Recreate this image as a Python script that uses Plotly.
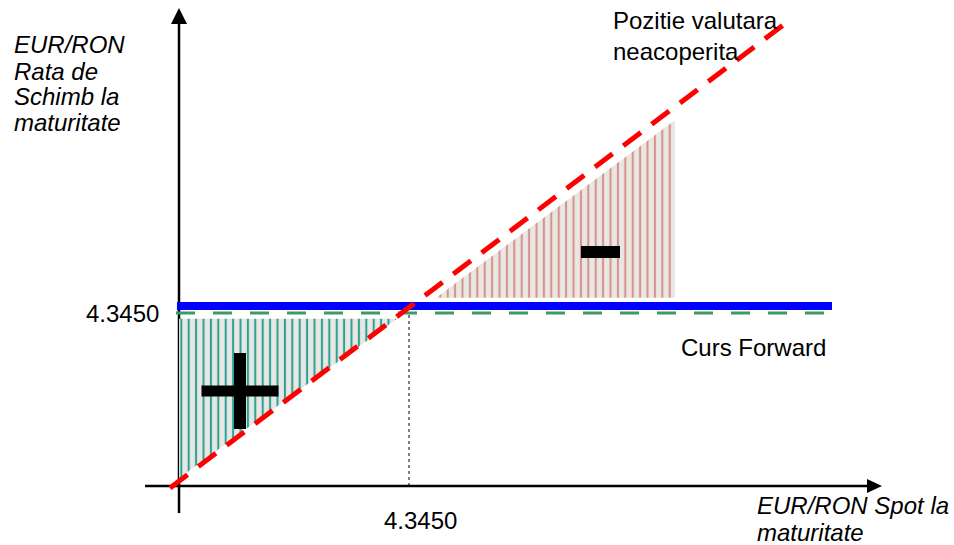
import plotly.graph_objects as go

# ---- values (EUR/RON) ----
FORWARD = 4.3450
TICK_LABEL = "4.3450"

SPOT_AXIS_AT = 4.113          # spot value where the rate axis stands
RATE_AXIS_AT = 4.1066         # rate value where the spot axis stands
spot_axis_span = [4.079, 4.816]
rate_axis_span = [4.0708, 4.7397]

# unhedged position: rate at maturity follows the spot one-to-one
unhedged_spot = [4.104, 4.717]
unhedged_rate = [4.104, 4.717]

# forward contract: rate fixed at the forward
forward_spot = [4.111, 4.766]
forward_rate = [FORWARD, FORWARD]

# gain region (spot below forward) and loss region (spot above forward)
gain_spot = [4.113, 4.331, 4.113]
gain_rate = [4.328, 4.328, 4.117]
loss_spot = [4.370, 4.609, 4.609]
loss_rate = [4.356, 4.356, 4.591]

gain_sign_at = (4.174, 4.2324)
loss_sign_at = (4.5345, 4.4165)

y_title_lines = ["EUR/RON", "Rata de", "Schimb la", "maturitate"]
x_title_lines = ["EUR/RON Spot la", "maturitate"]
unhedged_lines = ["Pozitie valutara", "neacoperita"]
forward_label = "Curs Forward"

# ---- drawing ----
W, H = 954, 545
X_RANGE = [3.934, 4.888]
Y_RANGE = [4.02844, 4.75030]
FONT = "Liberation Sans, Arial, sans-serif"
FS = 24

fig = go.Figure()

fig.add_trace(go.Scatter(
    x=gain_spot, y=gain_rate, fill="toself", mode="lines",
    line=dict(width=0, color="rgba(0,0,0,0)"),
    fillpattern=dict(shape="|", size=7.4, solidity=0.28,
                     fgcolor="#2aa396", bgcolor="#e9e7e3", fillmode="replace"),
    hoverinfo="skip", showlegend=False))
fig.add_trace(go.Scatter(
    x=loss_spot, y=loss_rate, fill="toself", mode="lines",
    line=dict(width=0, color="rgba(0,0,0,0)"),
    fillpattern=dict(shape="|", size=7.4, solidity=0.28,
                     fgcolor="#d6928b", bgcolor="#e9e7e3", fillmode="replace"),
    hoverinfo="skip", showlegend=False))

fig.add_trace(go.Scatter(
    x=forward_spot, y=forward_rate, mode="lines",
    line=dict(color="#0000ff", width=8),
    hoverinfo="skip", showlegend=False))

fig.add_trace(go.Scatter(
    x=unhedged_spot, y=unhedged_rate, mode="lines",
    line=dict(color="#ff0000", width=5, dash="22px,13.5px"),
    hoverinfo="skip", showlegend=False))

shapes = []
# axes
shapes.append(dict(type="line", xref="x", yref="y",
                   x0=SPOT_AXIS_AT, x1=SPOT_AXIS_AT,
                   y0=rate_axis_span[0], y1=rate_axis_span[1] - 0.01,
                   line=dict(color="black", width=2.5), layer="below"))
shapes.append(dict(type="line", xref="x", yref="y",
                   x0=spot_axis_span[0], x1=spot_axis_span[1] - 0.008,
                   y0=RATE_AXIS_AT, y1=RATE_AXIS_AT,
                   line=dict(color="black", width=2.5), layer="below"))
# arrow heads
shapes.append(dict(type="path", xref="x", yref="y",
                   xsizemode="pixel", ysizemode="pixel",
                   xanchor=SPOT_AXIS_AT, yanchor=rate_axis_span[1],
                   path="M-8,-16L0,0L8,-16Z",
                   fillcolor="black", line=dict(width=0)))
shapes.append(dict(type="path", xref="x", yref="y",
                   xsizemode="pixel", ysizemode="pixel",
                   xanchor=spot_axis_span[1], yanchor=RATE_AXIS_AT,
                   path="M-15,7L0,0L-15,-7Z",
                   fillcolor="black", line=dict(width=0)))
# hedged level, drawn just under the forward line
shapes.append(dict(type="line", xref="x", yref="y",
                   x0=SPOT_AXIS_AT - 0.003, x1=forward_spot[1],
                   ysizemode="pixel", yanchor=FORWARD, y0=-7, y1=-7,
                   line=dict(color="#3a9a6c", width=3, dash="19px,18px"),
                   layer="below"))
# guide from the forward rate down to the spot axis
shapes.append(dict(type="line", xref="x", yref="y",
                   x0=FORWARD - 0.002, x1=FORWARD - 0.002,
                   y0=RATE_AXIS_AT, y1=FORWARD - 0.009,
                   line=dict(color="black", width=1, dash="dot"),
                   layer="below"))
# "+" and "-" signs
gx, gy = gain_sign_at
shapes.append(dict(type="rect", xref="x", yref="y",
                   xsizemode="pixel", ysizemode="pixel",
                   xanchor=gx, yanchor=gy, x0=-38.5, x1=38.5, y0=-5.5, y1=5.5,
                   fillcolor="black", line=dict(width=0)))
shapes.append(dict(type="rect", xref="x", yref="y",
                   xsizemode="pixel", ysizemode="pixel",
                   xanchor=gx, yanchor=gy, x0=-6, x1=6, y0=-38, y1=38,
                   fillcolor="black", line=dict(width=0)))
lx, ly = loss_sign_at
shapes.append(dict(type="rect", xref="x", yref="y",
                   xsizemode="pixel", ysizemode="pixel",
                   xanchor=lx, yanchor=ly, x0=-19.5, x1=19.5, y0=-6, y1=6,
                   fillcolor="black", line=dict(width=0)))

annotations = []


def label(text, px, py, xanchor="left", italic=False):
    annotations.append(dict(
        text=text, xref="paper", yref="paper",
        x=px / W, y=1 - py / H, xanchor=xanchor, yanchor="middle",
        showarrow=False, borderpad=0,
        font=dict(family=FONT, size=FS, color="black",
                  style="italic" if italic else "normal")))


for i, t in enumerate(y_title_lines):
    label(t, 13, [45, 71, 96, 122][i], italic=True)
for i, t in enumerate(x_title_lines):
    label(t, 756, [505, 532][i], italic=True)
for i, t in enumerate(unhedged_lines):
    label(t, 612, [21, 51][i])
label(forward_label, 680, 347)

annotations.append(dict(text=TICK_LABEL, xref="paper", yref="y",
                        x=161 / W, y=FORWARD, yshift=-7,
                        xanchor="right", yanchor="middle", showarrow=False,
                        font=dict(family=FONT, size=FS, color="black")))
annotations.append(dict(text=TICK_LABEL, xref="x", yref="paper",
                        x=FORWARD + 0.009, y=1 - 520 / H,
                        xanchor="center", yanchor="middle", showarrow=False,
                        font=dict(family=FONT, size=FS, color="black")))

fig.update_layout(
    width=W, height=H,
    margin=dict(l=0, r=0, t=0, b=0),
    paper_bgcolor="white", plot_bgcolor="white",
    xaxis=dict(range=X_RANGE, visible=False, fixedrange=True),
    yaxis=dict(range=Y_RANGE, visible=False, fixedrange=True),
    shapes=shapes, annotations=annotations,
    showlegend=False,
)

fig.write_html("out.html")
